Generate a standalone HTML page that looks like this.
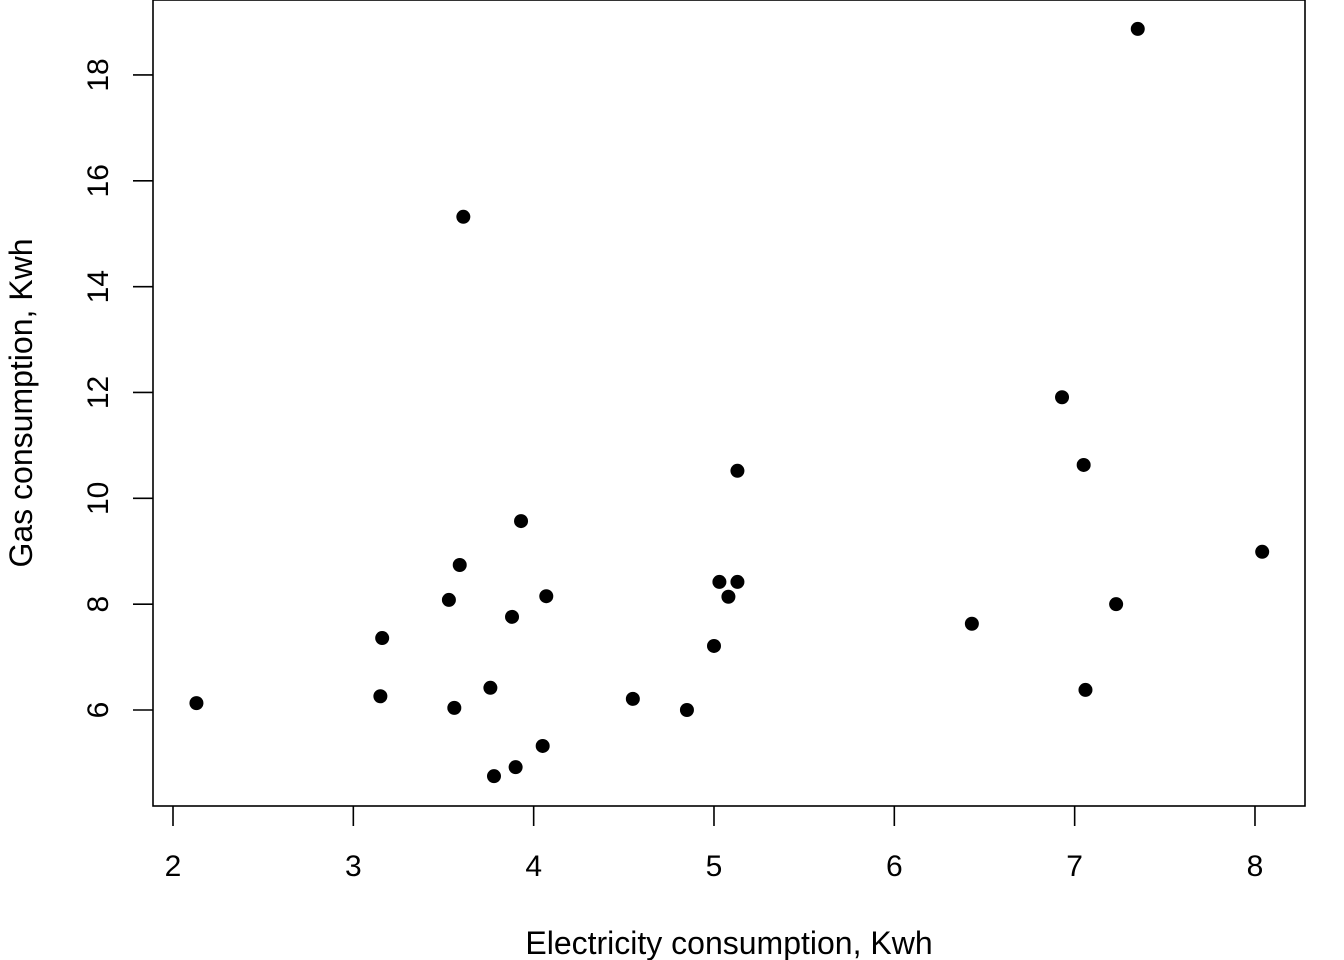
<!DOCTYPE html>
<html><head><meta charset="utf-8"><style>
html,body{margin:0;padding:0;background:#fff}
svg{display:block;font-family:"Liberation Sans",Arial,sans-serif}
</style></head><body>
<svg id="chart" width="1344" height="960">
<rect x="153" y="0" width="1152" height="806" fill="none" stroke="#000" stroke-width="1.6"/>
<g id="xaxis"></g>
<g id="yaxis"></g>
<g id="points"></g>
<text x="729" y="954" font-size="32" text-anchor="middle">Electricity consumption, Kwh</text>
<text transform="translate(32,403) rotate(-90)" font-size="32" text-anchor="middle">Gas consumption, Kwh</text>
</svg>
<script>
const elecValues=[2.13,3.15,3.16,3.53,3.56,3.59,3.61,3.76,3.78,3.88,3.90,3.93,4.05,4.07,4.55,4.85,5.00,5.03,5.08,5.13,5.13,6.43,6.93,7.05,7.06,7.23,7.35,8.04];
const gasValues=[6.13,6.26,7.36,8.08,6.04,8.74,15.32,6.42,4.75,7.76,4.92,9.57,5.32,8.15,6.21,6.0,7.21,8.42,8.14,8.42,10.52,7.63,11.91,10.63,6.38,8.0,18.87,8.99];
const xTicks=[2,3,4,5,6,7,8];
const yTicks=[6,8,10,12,14,16,18];
const NS="http://www.w3.org/2000/svg";
function xs(v){return 173+(v-2)*180.33;}
function ys(v){return 710-(v-6)*52.92;}
function mk(t,a,p){const e=document.createElementNS(NS,t);for(const k in a)e.setAttribute(k,a[k]);p.appendChild(e);return e;}
const xa=document.getElementById('xaxis'),ya=document.getElementById('yaxis'),pts=document.getElementById('points');
xTicks.forEach(t=>{
 mk('line',{x1:xs(t),x2:xs(t),y1:806,y2:826,stroke:'#000','stroke-width':1.6},xa);
 const tx=mk('text',{x:xs(t),y:876,'font-size':30,'text-anchor':'middle'},xa);tx.textContent=t;
 
 
});
yTicks.forEach(t=>{
 mk('line',{x1:133,x2:153,y1:ys(t),y2:ys(t),stroke:'#000','stroke-width':1.6},ya);
 const tx=mk('text',{transform:`translate(108,${ys(t)}) rotate(-90)`,'font-size':30,'text-anchor':'middle'},ya);tx.textContent=t;
 
 
});
elecValues.forEach((v,i)=>{
 const c=mk('circle',{cx:xs(v),cy:ys(gasValues[i]),r:7,fill:'#000'},pts);
 
 
});
</script>
</body></html>
